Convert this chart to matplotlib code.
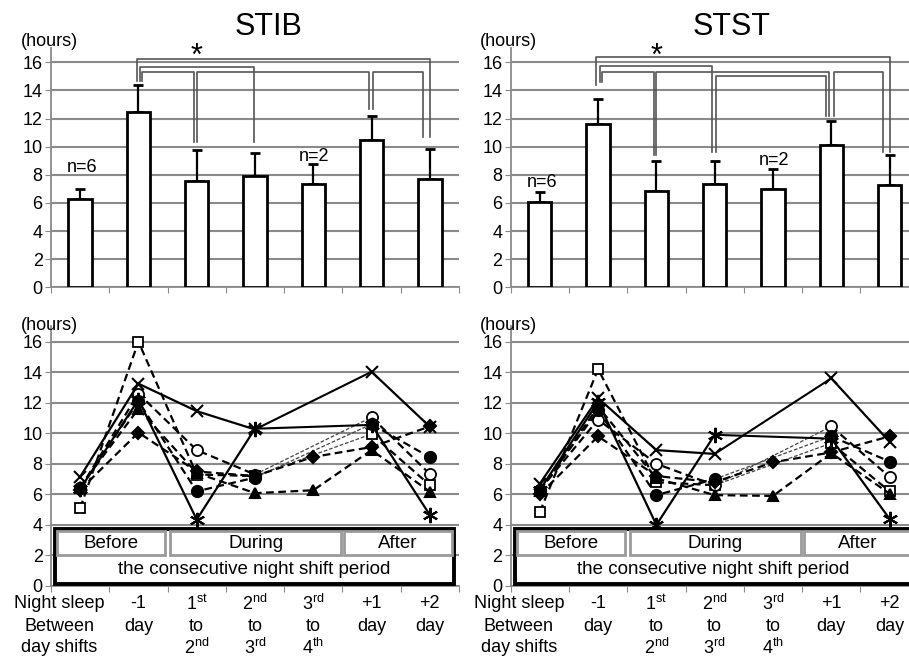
import matplotlib

matplotlib.use("Agg")

import matplotlib.pyplot as plt
import numpy as np
from matplotlib.patches import Rectangle

plt.rcParams["font.family"] = ["Liberation Sans", "DejaVu Sans"]
plt.rcParams["mathtext.fontset"] = "custom"
plt.rcParams["mathtext.rm"] = "Liberation Sans"
plt.rcParams["mathtext.it"] = "Liberation Sans:italic"

# --- data -------------------------------------------------------------
periods = ["Before", "-1 day", "1st-2nd", "2nd-3rd", "3rd-4th", "+1 day", "+2 day"]

stib_mean = [6.3, 12.5, 7.55, 7.95, 7.35, 10.5, 7.7]
stib_sd = [0.66, 1.87, 2.2, 1.61, 1.45, 1.7, 2.14]
stst_mean = [6.05, 11.65, 6.85, 7.35, 7.0, 10.1, 7.3]
stst_sd = [0.71, 1.76, 2.13, 1.61, 1.45, 1.71, 2.13]

nan = np.nan
# individual subjects, night sleep (hours)
stib_square = [5.1, 16.0, 7.3, 7.2, nan, 9.95, 6.6]
stib_open_circle = [6.4, 12.6, 8.9, 7.3, nan, 11.05, 7.33]
stib_filled_circle = [6.4, 12.1, 6.2, 7.1, nan, 10.6, 8.43]
stib_diamond = [6.3, 10.05, 7.5, 7.2, 8.45, 9.1, 10.45]
stib_triangle = [6.5, 11.6, 7.4, 6.08, 6.27, 8.9, 6.18]
stib_cross = [7.15, 13.25, 11.45, 10.25, nan, 14.03, 10.43]
stib_star = [6.35, 12.2, 4.35, 10.3, nan, 10.55, 4.65]

stst_square = [4.85, 14.2, 6.8, 6.6, nan, 9.35, 6.2]
stst_open_circle = [6.3, 10.9, 8.0, 6.6, nan, 10.45, 7.15]
stst_filled_circle = [6.3, 11.5, 5.95, 7.0, nan, 9.8, 8.15]
stst_diamond = [6.0, 9.8, 7.2, 6.8, 8.1, 8.75, 9.8]
stst_triangle = [6.2, 11.75, 7.05, 5.95, 5.9, 8.7, 6.05]
stst_cross = [6.7, 12.3, 8.9, 8.65, nan, 13.6, 9.45]
stst_star = [6.3, 12.05, 4.0, 9.9, nan, 9.65, 4.4]

# significance brackets: (bar a, bar b, level, leg end a, leg end b, dx a, dx b)
stib_brackets = [
    (1, 6, 16.25, 14.7, 10.7, -0.03, 0.0),
    (1, 3, 15.7, 14.7, 10.3, 0.03, -0.02),
    (1, 2, 15.3, 14.7, 10.3, 0.06, -0.05),
    (2, 5, 15.3, 10.3, 12.7, 0.01, -0.05),
    (5, 6, 15.3, 12.7, 10.7, 0.03, -0.12),
]
stst_brackets = [
    (1, 6, 16.35, 14.4, 9.6, -0.04, 0.0),
    (1, 3, 15.73, 14.6, 9.6, 0.03, -0.04),
    (1, 2, 15.33, 14.6, 9.4, 0.06, -0.04),
    (2, 5, 15.33, 9.4, 12.2, 0.0, -0.04),
    (3, 5, 15.0, 9.6, 12.2, 0.02, -0.09),
    (5, 6, 15.33, 12.2, 9.6, 0.04, -0.11),
]

row1 = ["Night sleep", "-1", r"1$^{\mathrm{st}}$", r"2$^{\mathrm{nd}}$", r"3$^{\mathrm{rd}}$", "+1", "+2"]
row2 = ["Between", "day", "to", "to", "to", "day", "day"]
row3 = ["day shifts", "", r"2$^{\mathrm{nd}}$", r"3$^{\mathrm{rd}}$", r"4$^{\mathrm{th}}$", "", ""]

GRID = "#8a8a8a"
x = np.arange(len(periods))


def style_axes(ax):
    ax.set_xlim(-0.5, 6.5)
    ax.set_ylim(0, 17)
    ax.set_yticks(np.arange(0, 17, 2))
    ax.set_xticks(np.arange(-0.5, 7, 1))
    ax.set_xticklabels([])
    ax.yaxis.grid(True, color=GRID, lw=1.5)
    ax.set_axisbelow(True)
    for side in ("top", "right"):
        ax.spines[side].set_visible(False)
    for side in ("left", "bottom"):
        ax.spines[side].set_color(GRID)
        ax.spines[side].set_linewidth(1.3)
    ax.tick_params(axis="both", length=4, color=GRID, labelsize=13, pad=2)


def draw_bars(ax, mean, sd, brackets, n_pos):
    ax.bar(x, mean, width=0.4, color="white", edgecolor="black", lw=2, zorder=3)
    ax.errorbar(x, mean, yerr=[np.zeros(len(sd)), sd], fmt="none", ecolor="black",
                elinewidth=1.6, capsize=3.5, capthick=2, zorder=2)
    for a, b, level, ya, yb, dxa, dxb in brackets:
        ax.plot([a + dxa, a + dxa, b + dxb, b + dxb], [ya, level, level, yb],
                color="#555555", lw=1.2, zorder=4, clip_on=False)
    ax.text(2.0, 16.4, "*", ha="center", va="center", fontsize=22, clip_on=False)
    ax.text(n_pos[0][0], n_pos[0][1], "n=6", ha="center", va="center", fontsize=13)
    ax.text(n_pos[1][0], n_pos[1][1], "n=2", ha="center", va="center", fontsize=13)


def draw_subject(ax, values, marker, ms, face, dashed):
    vals = np.array(values, dtype=float)
    ls = (0, (3.5, 2)) if dashed else "-"
    ok = np.where(~np.isnan(vals))[0]
    # connect across missing nights
    for i0, i1 in zip(ok[:-1], ok[1:]):
        if i1 - i0 > 1:
            if dashed:
                ax.plot([i0, i1], [vals[i0], vals[i1]], color="#444444", lw=0.9,
                        ls=(0, (3, 1.5)), zorder=3)
            else:
                ax.plot([i0, i1], [vals[i0], vals[i1]], color="black", lw=1.5, ls="-", zorder=3)
    ax.plot(x, vals, color="black", lw=1.6, ls=ls, marker=marker, ms=ms,
            mfc=face, mec="black", mew=1.3 if face == "white" else 1.5, zorder=4)


def draw_lines(ax, subjects):
    markers = [("s", 6.5, "white", True), ("o", 8, "white", True), ("o", 8, "black", True),
               ("D", 6, "black", True), ("^", 7.5, "black", True), ("x", 9, "black", False),
               ((6, 2, 0), 11, "black", False)]
    for vals, (m, ms, face, dashed) in zip(subjects, markers):
        draw_subject(ax, vals, m, ms, face, dashed)

    # period box
    ax.add_patch(Rectangle((-0.43, 0.15), 6.85, 3.55, facecolor="white", edgecolor="black",
                           lw=2.8, zorder=5, clip_on=False))
    for left, right, label in [(-0.40, 1.46, "Before"), (1.54, 4.48, "During"), (4.53, 6.38, "After")]:
        ax.add_patch(Rectangle((left, 2.05), right - left, 1.55, facecolor="white",
                               edgecolor="#9a9a9a", lw=2, zorder=6, clip_on=False))
        ax.text((left + right) / 2, 2.8, label, ha="center", va="center", fontsize=13.5, zorder=7)
    ax.text(2.98, 1.1, "the consecutive night shift period", ha="center", va="center",
            fontsize=13.5, zorder=7)

    trans = ax.get_xaxis_transform()
    for row, ypos in [(row1, -0.068), (row2, -0.155), (row3, -0.238)]:
        for i, label in enumerate(row):
            xpos = -0.36 if i == 0 else i
            ax.text(xpos, ypos, label, transform=trans, ha="center", va="center", fontsize=13)


fig = plt.figure(figsize=(9.09, 6.58), dpi=100)
W, H = 909.0, 658.0
top_left = fig.add_axes([51 / W, (H - 287.3) / H, 408 / W, 239 / H])
top_right = fig.add_axes([510.7 / W, (H - 287.3) / H, 408 / W, 239 / H])
bot_left = fig.add_axes([51 / W, (H - 586) / H, 408 / W, 259.6 / H])
bot_right = fig.add_axes([510.7 / W, (H - 586) / H, 408 / W, 259.6 / H])

for ax in (top_left, top_right, bot_left, bot_right):
    style_axes(ax)

draw_bars(top_left, stib_mean, stib_sd, stib_brackets, [(0.03, 8.55), (4.02, 9.27)])
draw_bars(top_right, stst_mean, stst_sd, stst_brackets, [(0.04, 7.45), (4.02, 9.05)])

draw_lines(bot_left, [stib_square, stib_open_circle, stib_filled_circle, stib_diamond,
                      stib_triangle, stib_cross, stib_star])
draw_lines(bot_right, [stst_square, stst_open_circle, stst_filled_circle, stst_diamond,
                       stst_triangle, stst_cross, stst_star])

for ax, yoff in [(top_left, 1.03), (top_right, 1.03), (bot_left, 1.005), (bot_right, 1.005)]:
    ax.text(-0.005, yoff, "(hours)", transform=ax.transAxes, ha="center", va="center", fontsize=13)

fig.text(268 / W, 1 - 27 / H, "STIB", ha="center", va="center", fontsize=22)
fig.text(732 / W, 1 - 27 / H, "STST", ha="center", va="center", fontsize=22)

fig.savefig("out.png", dpi=100)
